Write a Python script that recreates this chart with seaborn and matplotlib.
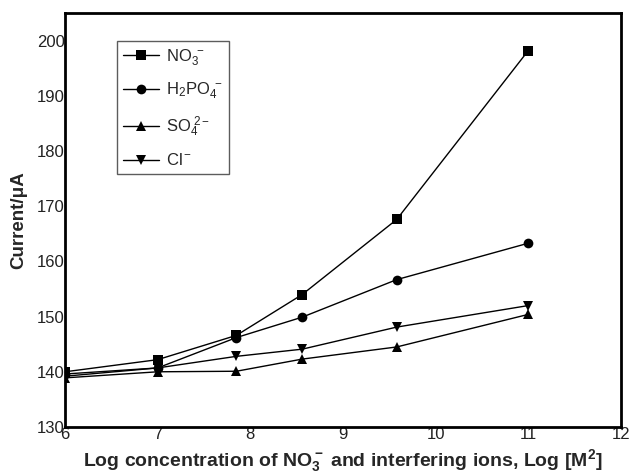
import pandas as pd
import matplotlib
matplotlib.use('Agg')
import matplotlib.pyplot as plt
import seaborn as sns

# log concentration positions shared by all series
log_conc = [6, 7, 7.85, 8.56, 9.58, 11]

no3 = [140.0, 142.2, 146.6, 154.0, 167.6, 198.2]
h2po4 = [139.6, 140.7, 146.2, 149.9, 156.7, 163.3]
so4 = [138.9, 140.0, 140.1, 142.3, 144.5, 150.4]
cl = [139.2, 140.7, 142.8, 144.1, 148.1, 152.0]

ion_labels = [r'NO$_3^{\ -}$', r'H$_2$PO$_4^{\ -}$', r'SO$_4^{\ 2-}$', r'Cl$^-$']
markers = ['s', 'o', '^', 'v']

sns.set_theme(style='white')
plt.rcParams['font.family'] = ['Liberation Sans', 'DejaVu Sans']
plt.rcParams['mathtext.fontset'] = 'custom'
plt.rcParams['mathtext.rm'] = 'Liberation Sans'
plt.rcParams['mathtext.it'] = 'Liberation Sans:italic'
plt.rcParams['mathtext.bf'] = 'Liberation Sans:bold'

rows = []
for lab, vals in zip(ion_labels, [no3, h2po4, so4, cl]):
    for x, y in zip(log_conc, vals):
        rows.append({'x': x, 'y': y, 'ion': lab})
df = pd.DataFrame(rows)

fig = plt.figure(figsize=(6.31, 4.73), dpi=100)
ax = fig.add_axes([0.103, 0.0973, 0.881, 0.875])

sns.lineplot(data=df, x='x', y='y', hue='ion', style='ion',
             palette=['black'] * 4, markers=markers, dashes=False,
             markersize=7, markeredgewidth=0, linewidth=1, ax=ax)

ax.set_xlim(6, 12)
ax.set_ylim(130, 205)
ax.set_xticks([6, 7, 8, 9, 10, 11, 12])
ax.set_yticks([130, 140, 150, 160, 170, 180, 190, 200])
ax.tick_params(length=0, labelsize=12, colors='#222222')
ax.tick_params(axis='x', pad=0)
ax.tick_params(axis='y', pad=0)
for s in ax.spines.values():
    s.set_color('black')
    s.set_linewidth(2)

ax.set_ylabel('Current/μA', fontsize=13.5, fontweight='bold', labelpad=7)
ax.set_xlabel(r'Log concentration of NO$\mathbf{_3^-}$ and interfering ions, Log [M$\mathbf{^2}$]',
              fontsize=14, fontweight='bold', labelpad=4)

handles, labels = ax.get_legend_handles_labels()
leg = ax.legend(handles, labels, loc='upper left', bbox_to_anchor=(0.0935, 0.932),
                borderaxespad=0, fontsize=12, frameon=True, fancybox=False,
                edgecolor='#333333', handlelength=2.2, labelspacing=0.8,
                borderpad=0.35, handletextpad=0.4)
leg.get_frame().set_linewidth(1)

fig.savefig('out.png', dpi=100, facecolor='white')
